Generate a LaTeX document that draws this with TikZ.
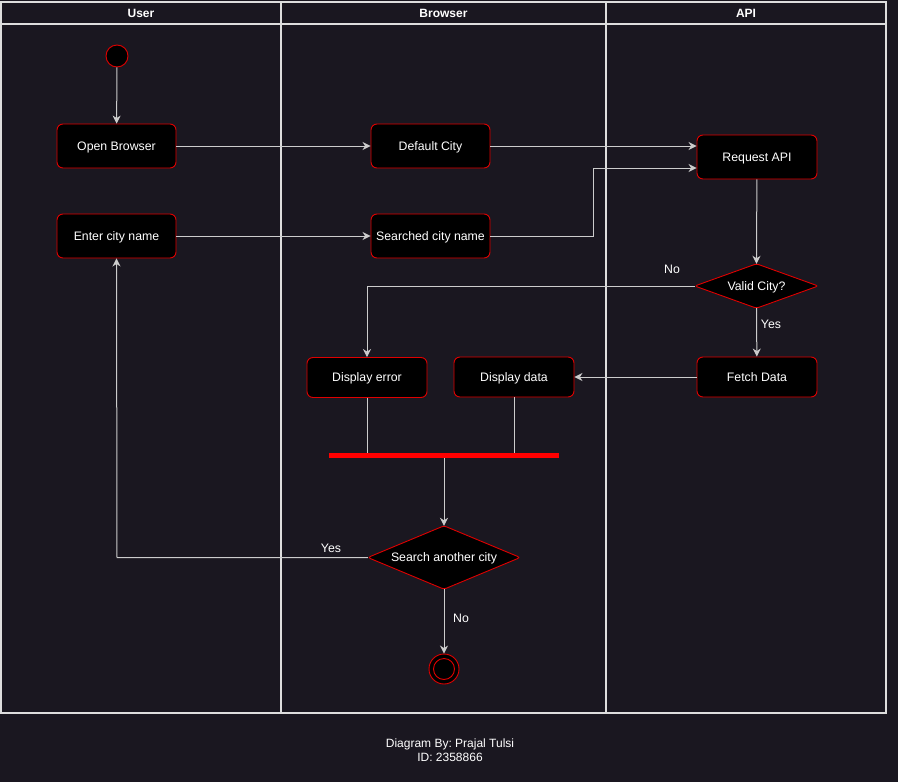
\documentclass[tikz,border=0pt]{standalone}
\usepackage{fontspec}
\setmainfont{Liberation Sans}
\frenchspacing
\usetikzlibrary{shapes.geometric,arrows.meta}
\definecolor{bgc}{HTML}{1A1720}
\definecolor{lanec}{HTML}{DDDDDD}
\definecolor{linec}{HTML}{CCCCCC}
\definecolor{redc}{HTML}{E00000}
\tikzset{
  x=1pt,y=-1pt,
  txt/.style={text=white,font=\fontsize{12.3}{14}\selectfont,text height=8.8pt,text depth=0pt},
  actbox/.style={txt,draw=redc,fill=black,rounded corners=6pt,line width=0.9pt,
    minimum width=119pt,minimum height=44pt,inner sep=0pt},
  decshape/.style={draw=redc,fill=black,line width=0.9pt,rounded corners=2.5pt},
  lane/.style={draw=lanec,line width=1.3pt},
  conn/.style={draw=linec,line width=1pt,-{Stealth[length=8pt,width=8pt,inset=2.5pt]}},
  plainconn/.style={draw=linec,line width=1pt},
  lbl/.style={txt,inner sep=1pt},
  hdr/.style={txt,font=\bfseries\fontsize{12}{14}\selectfont},
}
\begin{document}
\begin{tikzpicture}
\fill[bgc] (0,0) rectangle (898,782);
\useasboundingbox (0,0) rectangle (898,782);
% lanes
\draw[lane] (1,2) rectangle (886,713);
\draw[lane] (1,24) -- (886,24);
\draw[lane] (281,2) -- (281,713);
\draw[lane] (606,2) -- (606,713);
\node[hdr] (hUser) at (141,13) {User};
\node[hdr] (hBrowser) at (443.5,13) {Browser};
\node[hdr] (hAPI) at (746,13) {API};
% nodes
\node[circle,draw=redc,fill=black,line width=0.9pt,minimum size=22pt,inner sep=0pt] (start) at (117,56) {};
\node[actbox] (open) at (116.5,146) {Open Browser};
\node[actbox] (enter) at (116.5,236) {Enter city name};
\node[actbox] (defc) at (430.5,146) {Default City};
\node[actbox] (srch) at (430.5,236) {Searched city name};
\node[actbox,minimum width=120pt] (req) at (757,157) {Request API};
\path (756.5,286) node[minimum width=123pt,minimum height=44pt,inner sep=0pt] (valid) {};
\draw[decshape] (valid.north) -- (valid.east) -- (valid.south) -- (valid.west) -- cycle;
\node[txt] (validt) at (valid.center) {Valid City?};
\node[actbox,minimum width=120pt,minimum height=40pt] (fetch) at (757,377) {Fetch Data};
\node[actbox,minimum width=120pt,minimum height=40pt] (derr) at (367,377.5) {Display error};
\node[actbox,minimum width=120pt,minimum height=40pt] (ddat) at (514,377) {Display data};
\node[fill=red,minimum width=230pt,minimum height=5pt,inner sep=0pt] (bar) at (444,455.5) {};
\path (444,557.5) node[minimum width=152pt,minimum height=63pt,inner sep=0pt] (again) {};
\draw[decshape] (again.north) -- (again.east) -- (again.south) -- (again.west) -- cycle;
\node[txt] (againt) at (again.center) {Search another city};
\node[circle,draw=redc,fill=black,line width=0.9pt,minimum size=30pt,inner sep=0pt] (endo) at (444,669) {};
\node[circle,draw=redc,fill=black,line width=0.9pt,minimum size=21pt,inner sep=0pt] (endi) at (444,669) {};
% connectors
\draw[conn] (start) -- (open);
\draw[conn] (open) -- (defc);
\draw[conn] (defc.east) -- (req.west |- defc.east);
\coordinate (k1) at (593,236);
\coordinate (k2) at (593,168);
\draw[conn] (srch.east) -- (k1) -- (k2) -- (req.west |- k2);
\draw[conn] (enter) -- (srch);
\draw[conn] (req) -- (valid.north);
\coordinate (k3) at (367,286);
\draw[conn] (valid.west) -- (k3) -- (derr.north);
\node[lbl] (lNo1) at (672,269) {No};
\draw[conn] (valid.south) -- (fetch);
\node[lbl] (lYes1) at (771,324.5) {Yes};
\draw[conn] (fetch) -- (ddat);
\draw[plainconn] (derr.south) -- (derr.south |- bar.north);
\draw[plainconn] (ddat.south) -- (ddat.south |- bar.north);
\draw[conn] (bar) -- (again.north);
\coordinate (k4) at (117,557.5);
\draw[conn] (again.west) -- (k4) -- (enter.south);
\node[lbl] (lYes2) at (331,548.5) {Yes};
\draw[conn] (again.south) -- (endo);
\node[lbl] (lNo2) at (461,618.5) {No};
% footer
\node[text=white,font=\fontsize{12}{14}\selectfont,align=center] (foot) at (450,750) {Diagram By: Prajal Tulsi\\ID: 2358866};
\end{tikzpicture}
\end{document}
